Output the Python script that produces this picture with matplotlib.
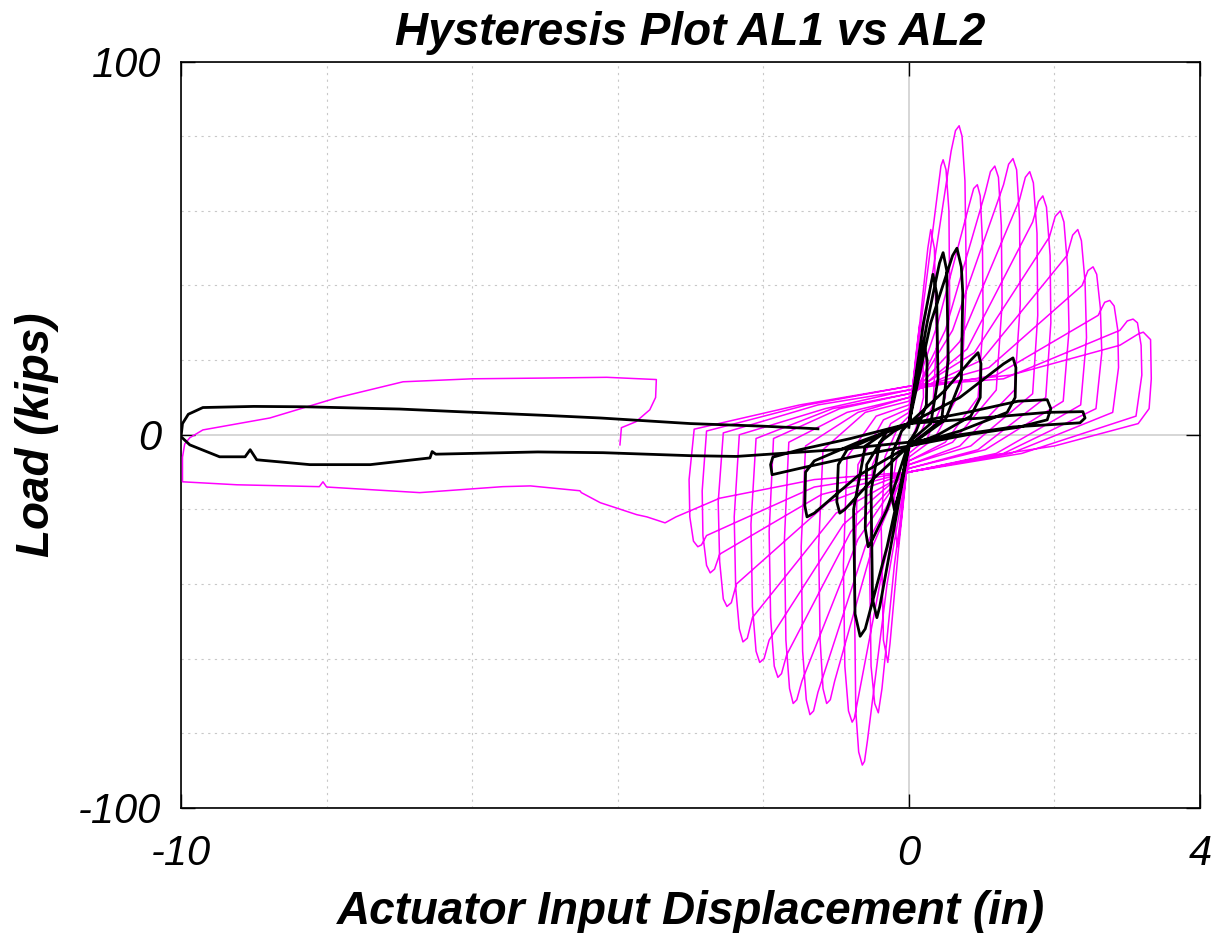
import matplotlib
matplotlib.use("Agg")
import matplotlib.pyplot as plt
import numpy as np

# AL1 (magenta) - cyclic loops, amplitude increasing
al1_loops = [
    # cycle 1
    (0.0, 3), (0.1, 22), (0.15, 30), (0.19, 26), (0.2, 10), (0.1, 2), (0.0, -3),
    (-0.1, -22), (-0.15, -30), (-0.19, -26), (-0.2, -10), (-0.1, 1),
    # cycle 2
    (0.0, 4), (0.15, 30), (0.26, 50), (0.3, 55), (0.35, 50), (0.38, 25), (0.33, 8),
    (0.15, 0), (0.0, -4), (-0.15, -32), (-0.26, -56), (-0.29, -61), (-0.35, -55),
    (-0.38, -25), (-0.33, -6), (-0.15, 2),
    # cycle 3
    (0.0, 5), (0.2, 35), (0.4, 66), (0.44, 72), (0.47, 73.7), (0.51, 71),
    (0.55, 60), (0.56, 35), (0.5, 10), (0.25, -1), (0.0, -5), (-0.2, -35),
    (-0.37, -68), (-0.42, -74.5), (-0.47, -72), (-0.52, -62), (-0.54, -35),
    (-0.5, -8), (-0.25, 3),
    # cycle 4
    (0.0, 6), (0.3, 40), (0.58, 76), (0.64, 81.5), (0.69, 82.8), (0.73, 80),
    (0.77, 68), (0.79, 40), (0.72, 12), (0.35, -1), (0.0, -6), (-0.3, -40),
    (-0.57, -82), (-0.61, -87.5), (-0.64, -88.5), (-0.69, -85), (-0.73, -74),
    (-0.75, -40), (-0.7, -8), (-0.35, 4),
    # cycle 5
    (0.0, 7), (0.4, 30), (0.82, 61), (0.89, 66), (0.94, 67), (0.98, 64),
    (1.01, 52), (1.02, 30), (0.95, 10), (0.5, -2), (0.0, -7), (-0.35, -35),
    (-0.7, -71), (-0.75, -76), (-0.78, -77), (-0.83, -74), (-0.88, -62),
    (-0.9, -35), (-0.85, -6), (-0.45, 5),
    # cycle 6
    (0.0, 8), (0.5, 28), (1.05, 65), (1.12, 70.5), (1.18, 72), (1.23, 69),
    (1.27, 56), (1.28, 35), (1.2, 12), (0.6, -2), (0.0, -7), (-0.5, -30),
    (-1.02, -66), (-1.08, -71), (-1.13, -72), (-1.18, -68), (-1.22, -55),
    (-1.24, -30), (-1.18, -4), (-0.6, 6),
    # cycle 7
    (0.0, 9), (0.6, 28), (1.3, 67), (1.37, 72.5), (1.43, 74), (1.48, 71),
    (1.52, 58), (1.53, 35), (1.45, 12), (0.7, -3), (0.0, -8), (-0.6, -30),
    (-1.25, -69), (-1.31, -74), (-1.36, -75), (-1.41, -71), (-1.46, -58),
    (-1.48, -30), (-1.42, -3), (-0.7, 6),
    # cycle 8
    (0.0, 10), (0.7, 25), (1.52, 63), (1.6, 69), (1.66, 70.5), (1.71, 67.5),
    (1.76, 54), (1.77, 32), (1.7, 11), (0.85, -3), (0.0, -8), (-0.7, -28),
    (-1.47, -66), (-1.54, -71), (-1.59, -72), (-1.64, -68), (-1.69, -55),
    (-1.71, -28), (-1.65, -2), (-0.85, 6),
    # cycle 9
    (0.0, 10), (0.8, 23), (1.7, 57), (1.78, 62.5), (1.84, 64), (1.89, 61),
    (1.94, 48), (1.95, 30), (1.88, 10), (0.95, -4), (0.0, -9), (-0.8, -26),
    (-1.68, -59), (-1.75, -64), (-1.8, -65), (-1.85, -62), (-1.9, -49),
    (-1.92, -26), (-1.86, -1), (-0.95, 7),
    # cycle 10
    (0.0, 11), (0.9, 22), (1.93, 53), (2.01, 58.5), (2.08, 60), (2.13, 57),
    (2.18, 45), (2.2, 28), (2.12, 9), (1.05, -4), (0.0, -9), (-0.9, -24),
    (-1.92, -55), (-1.99, -60), (-2.05, -61), (-2.1, -58), (-2.15, -46),
    (-2.17, -24), (-2.1, -1), (-1.05, 7),
    # cycle 11
    (0.0, 11), (1.0, 20), (2.17, 48), (2.25, 53.5), (2.32, 55), (2.37, 52),
    (2.42, 41), (2.44, 26), (2.36, 8), (1.2, -5), (0.0, -10), (-1.0, -21),
    (-2.15, -49), (-2.22, -54.5), (-2.28, -55.5), (-2.33, -52), (-2.38, -41),
    (-2.4, -22), (-2.33, 0), (-1.15, 7),
    # cycle 12
    (0.0, 12), (1.1, 18), (2.38, 40), (2.46, 44), (2.53, 45), (2.58, 43),
    (2.63, 34), (2.65, 22), (2.57, 7), (1.3, -5), (0.0, -10), (-1.1, -18),
    (-2.37, -40), (-2.44, -45), (-2.5, -46), (-2.55, -44), (-2.6, -34),
    (-2.62, -18), (-2.55, 0.5), (-1.25, 8),
    # cycle 13
    (0.0, 12), (1.2, 16), (2.6, 32), (2.69, 35.5), (2.76, 36), (2.82, 34.5),
    (2.87, 28), (2.88, 18), (2.8, 6), (1.4, -5), (0.0, -10), (-1.2, -16),
    (-2.6, -32), (-2.67, -36), (-2.73, -37), (-2.78, -35), (-2.83, -27),
    (-2.84, -15), (-2.78, 1), (-1.4, 8),
    # cycle 14
    (0.0, 13), (1.3, 15), (2.9, 28), (3.0, 30.5), (3.08, 31), (3.14, 30),
    (3.19, 24), (3.2, 16), (3.12, 5), (1.55, -5), (0.0, -10), (-1.3, -14),
    (-2.78, -27), (-2.85, -29.5), (-2.9, -30), (-2.96, -28.5), (-3.01, -22),
    (-3.02, -12), (-2.95, 1.5), (-1.5, 8),
    # cycle 15
    (0.0, 13), (1.4, 16), (2.9, 24), (3.15, 27), (3.22, 27.5), (3.32, 25.5),
    (3.33, 15), (3.3, 7), (3.15, 3), (2.0, -3), (1.0, -6), (0.0, -10),
    (-1.3, -12), (-2.6, -17), (-3.2, -22), (-3.35, -23.6),
]

# AL1 final excursion to -10 in
al1_tail = [
    (-3.6, -22), (-3.74, -21.4), (-4.24, -18.2), (-4.5, -15.5), (-4.52, -15.0),
    (-5.2, -13.7), (-5.58, -13.9), (-6.72, -15.5), (-7.4, -14.7), (-8.0, -14.0),
    (-8.05, -12.6), (-8.1, -13.9), (-9.23, -13.4), (-9.98, -12.6), (-9.98, -6),
    (-9.95, -2.5), (-9.88, -0.8), (-9.7, 1.3), (-8.78, 4.5), (-7.86, 9.9),
    (-6.95, 14.2), (-6.0, 15.0), (-5.0, 15.2), (-4.15, 15.4), (-3.47, 14.8),
    (-3.48, 10.0), (-3.56, 6.7), (-3.75, 3.5), (-3.95, 1.9), (-3.97, -2.7),
]

# AL2 (black) - cyclic loops
al2_loops = [
    # cycle 1
    (0.0, 2), (0.12, 18), (0.2, 25), (0.25, 20), (0.24, 8), (0.1, 1), (0.0, -2),
    (-0.12, -15), (-0.2, -20), (-0.25, -15), (-0.23, -5), (-0.1, 1),
    # cycle 2
    (0.0, 3), (0.2, 30), (0.33, 43), (0.38, 38), (0.4, 15), (0.3, 3), (0.0, -2),
    (-0.3, -20), (-0.5, -28), (-0.56, -30), (-0.6, -25), (-0.58, -8), (-0.3, 1),
    # cycle 3
    (0.0, 3), (0.25, 30), (0.42, 46), (0.47, 48.8), (0.52, 44), (0.54, 20),
    (0.45, 4), (0.0, -3), (-0.25, -30), (-0.4, -46), (-0.44, -49), (-0.5, -44),
    (-0.52, -15), (-0.4, -2), (-0.2, 1),
    # cycle 4
    (0.0, 3), (0.3, 30), (0.6, 48), (0.66, 50), (0.72, 45), (0.74, 38), (0.72, 15),
    (0.5, 4), (0.0, -3), (-0.3, -30), (-0.6, -52), (-0.67, -54), (-0.74, -48),
    (-0.76, -20), (-0.6, -3), (-0.3, 1),
    # cycle 5
    (0.0, 3), (0.5, 12), (0.85, 20), (0.95, 22), (0.99, 19), (0.98, 10), (0.85, 5),
    (0.4, 0), (0.0, -3), (-0.5, -12), (-0.88, -20), (-0.95, -21), (-0.99, -18),
    (-0.97, -8), (-0.85, -4), (-0.4, 0),
    # cycle 6
    (0.0, 3), (0.7, 10), (1.3, 19), (1.43, 20.6), (1.47, 18), (1.46, 10), (1.35, 6),
    (0.7, 1), (0.0, -3), (-0.7, -11), (-1.3, -21), (-1.4, -22), (-1.43, -19),
    (-1.42, -10), (-1.3, -7), (-0.7, -2),
    # cycle 7
    (0.0, 3), (0.8, 6), (1.5, 9), (1.9, 9.4), (1.95, 7), (1.9, 4), (1.5, 2), (0.8, 0),
    (0.0, -3), (-0.8, -6), (-1.5, -9), (-1.88, -10.7), (-1.9, -8), (-1.87, -6),
    (-1.5, -4), (-0.8, -1),
    # cycle 8
    (0.0, 3), (1.0, 4.5), (1.9, 6), (2.39, 6.2), (2.42, 4.5), (2.35, 3.2),
    (1.43, 2.1), (0.7, 0), (0.0, -2),
]

# AL2 final excursion to -10 in
al2_tail = [
    (-1.0, -4), (-2.0, -5.3), (-2.37, -5.8), (-3.0, -5.6), (-4.2, -4.8),
    (-5.1, -4.6), (-5.57, -4.8), (-6.5, -5.2), (-6.55, -4.5), (-6.58, -6.2),
    (-7.4, -8.0), (-8.23, -8.0), (-8.96, -6.7), (-9.05, -4.0), (-9.12, -5.9),
    (-9.47, -5.9), (-9.88, -2.7), (-10.0, -0.5), (-9.98, 3.0), (-9.9, 5.5),
    (-9.7, 7.3), (-9.0, 7.6), (-8.3, 7.5), (-7.0, 6.9), (-6.2, 6.2),
    (-5.0, 5.2), (-4.24, 4.5), (-3.0, 3.0), (-2.0, 2.3), (-1.25, 1.6),
]

x_ticks = [-10, 0, 4]
y_ticks = [-100, 0, 100]

al1 = np.array(al1_loops + al1_tail)
al2 = np.array(al2_loops + al2_tail)

fig = plt.figure(figsize=(12.15, 9.33), dpi=100)
ax = fig.add_axes([0.149, 0.134, 0.8387, 0.80])

ax.plot(al1[:, 0], al1[:, 1], color="#ff00ff", lw=1.1, zorder=3)
ax.plot(al2[:, 0], al2[:, 1], color="black", lw=2.0, zorder=4)

ax.set_xlim(-10, 4)
ax.set_ylim(-100, 100)
ax.set_xticks(x_ticks)
ax.set_yticks(y_ticks)
ax.set_xticks(np.arange(-8, 4, 2), minor=True)
ax.set_yticks(np.arange(-80, 100, 20), minor=True)
ax.grid(which="minor", color="#c8c8c8", linestyle=(0, (2, 4)), lw=0.8)
ax.grid(which="major", color="#d0d0d0", linestyle="-", lw=1.2)
ax.tick_params(which="major", direction="in", length=10, width=1.0,
               top=True, right=True)
ax.tick_params(axis="x", which="major", pad=19)
ax.tick_params(axis="y", which="major", pad=14)
ax.tick_params(which="minor", length=0)
for s in ax.spines.values():
    s.set_linewidth(1.2)

tick_font = dict(family="Liberation Sans", style="italic", size=30)
ax.set_xticklabels([str(t) for t in x_ticks], **tick_font)
ax.set_yticklabels([str(t) for t in y_ticks], **tick_font)

lab_font = dict(family="Liberation Sans", style="italic", weight="bold", size=33)
ax.set_xlabel("Actuator Input Displacement (in)", labelpad=11, **lab_font)
ax.set_ylabel("Load (kips)", labelpad=14, **lab_font)
ax.set_title("Hysteresis Plot AL1 vs AL2", pad=12, family="Liberation Sans",
             style="italic", weight="bold", size=33)

fig.savefig("out.png", dpi=100)
